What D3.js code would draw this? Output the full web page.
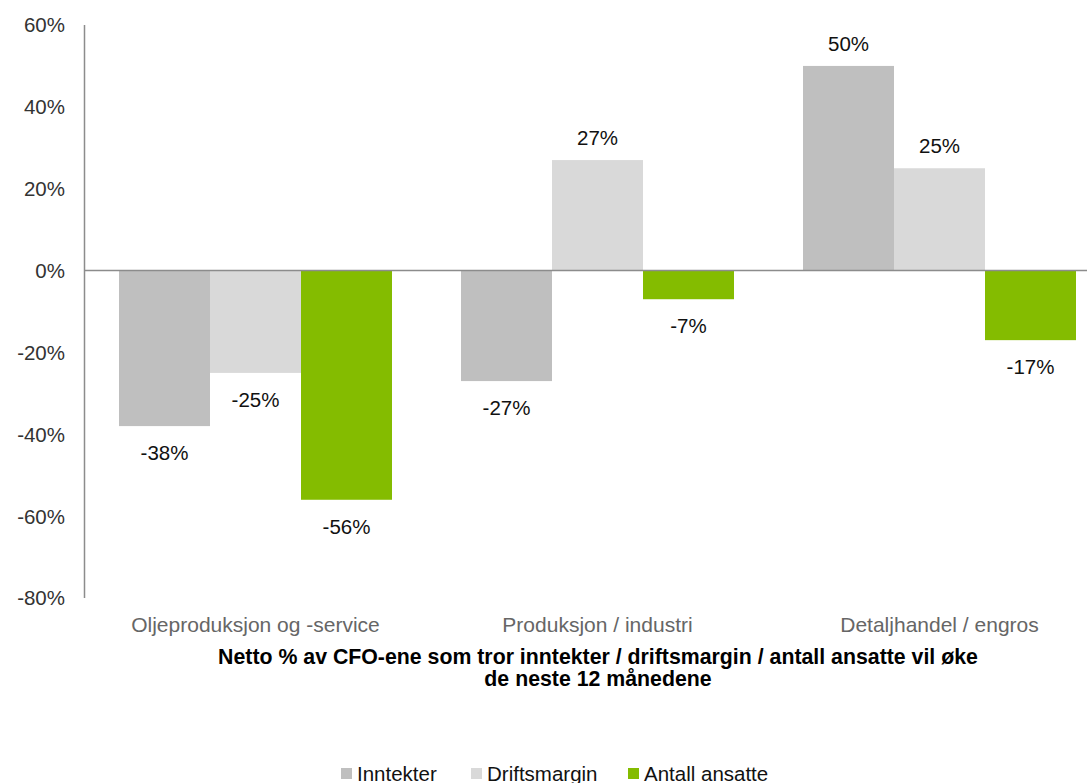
<!DOCTYPE html>
<html>
<head>
<meta charset="utf-8">
<script src="https://cdn.jsdelivr.net/npm/d3@7"></script>
<style>
  html, body { margin: 0; padding: 0; background: #fff; }
  svg { display: block; font-family: "Liberation Sans", Arial, sans-serif; }
</style>
</head>
<body>
<svg id="chart" width="1087" height="783"></svg>
<script>
// Sectors and series
const categories = ["Oljeproduksjon og -service", "Produksjon / industri", "Detaljhandel / engros"];
const seriesNames = ["Inntekter", "Driftsmargin", "Antall ansatte"];
const seriesColors = ["#bfbfbf", "#d9d9d9", "#84bc00"];
const inntekter = [-38, -27, 50];
const driftsmargin = [-25, 27, 25];
const antallAnsatte = [-56, -7, -17];
const yTicks = [-80, -60, -40, -20, 0, 20, 40, 60];
const titleLines = ["Netto % av CFO-ene som tror inntekter / driftsmargin / antall ansatte vil øke",
                    "de neste 12 månedene"];

const seriesValues = [inntekter, driftsmargin, antallAnsatte];
const rows = categories.map((c, i) => ({
  category: c,
  values: seriesNames.map((s, j) => ({ series: s, idx: j, value: seriesValues[j][i] }))
}));

const svg = d3.select("#chart");

const axisX = 84.5;
const pIn = 69 / 342;
const x0 = d3.scaleBand()
  .domain(categories)
  .range([axisX, axisX + 1026])
  .paddingInner(pIn)
  .paddingOuter(pIn / 2);
const x1 = d3.scaleBand()
  .domain(seriesNames)
  .range([0, x0.bandwidth()]);
const y = d3.scaleLinear().domain([-80, 60]).range([598, 25]);

// Y axis labels (no tick marks)
svg.append("g")
  .selectAll("text")
  .data(yTicks)
  .join("text")
  .attr("x", 65)
  .attr("y", d => y(d))
  .attr("dy", "0.36em")
  .attr("text-anchor", "end")
  .attr("font-size", 20.5)
  .attr("fill", "#333")
  .text(d => d + "%");

// Bars
const groups = svg.append("g")
  .selectAll("g")
  .data(rows)
  .join("g")
  .attr("transform", d => `translate(${x0(d.category)},0)`);

groups.selectAll("rect")
  .data(d => d.values)
  .join("rect")
  .attr("x", d => x1(d.series))
  .attr("width", x1.bandwidth())
  .attr("y", d => y(Math.max(0, d.value)))
  .attr("height", d => Math.abs(y(d.value) - y(0)))
  .attr("fill", d => seriesColors[d.idx]);

// Value labels
groups.selectAll("text")
  .data(d => d.values)
  .join("text")
  .attr("x", d => x1(d.series) + x1.bandwidth() / 2)
  .attr("y", d => d.value >= 0 ? y(d.value) - 15 : y(d.value) + 34)
  .attr("text-anchor", "middle")
  .attr("font-size", 20.5)
  .attr("fill", "#111")
  .text(d => d.value + "%");

// Axis lines
svg.append("line")
  .attr("x1", axisX).attr("x2", axisX)
  .attr("y1", y(60)).attr("y2", y(-80))
  .attr("stroke", "#8c8c8c").attr("stroke-width", 1.5);
svg.append("line")
  .attr("x1", axisX).attr("x2", 1087)
  .attr("y1", y(0)).attr("y2", y(0))
  .attr("stroke", "#8c8c8c").attr("stroke-width", 1.5);

// Category labels
svg.append("g")
  .selectAll("text")
  .data(categories)
  .join("text")
  .attr("x", d => x0(d) + x0.bandwidth() / 2)
  .attr("y", 632)
  .attr("text-anchor", "middle")
  .attr("font-size", 21)
  .attr("fill", "#666")
  .text(d => d);

// Title
svg.append("g")
  .selectAll("text")
  .data(titleLines)
  .join("text")
  .attr("x", 598)
  .attr("y", (d, i) => 664 + i * 22)
  .attr("text-anchor", "middle")
  .attr("font-size", 21.3)
  .attr("font-weight", "bold")
  .attr("fill", "#000")
  .text(d => d);

// Legend
const legendX = [341, 471, 628];
const legend = svg.append("g")
  .selectAll("g")
  .data(seriesNames)
  .join("g")
  .attr("transform", (d, i) => `translate(${legendX[i]},768)`);
legend.append("rect")
  .attr("width", 11).attr("height", 11)
  .attr("fill", (d, i) => seriesColors[i]);
legend.append("text")
  .attr("x", 16)
  .attr("y", 13)
  .attr("font-size", 20.5)
  .attr("fill", "#111")
  .text(d => d);
</script>
</body>
</html>
